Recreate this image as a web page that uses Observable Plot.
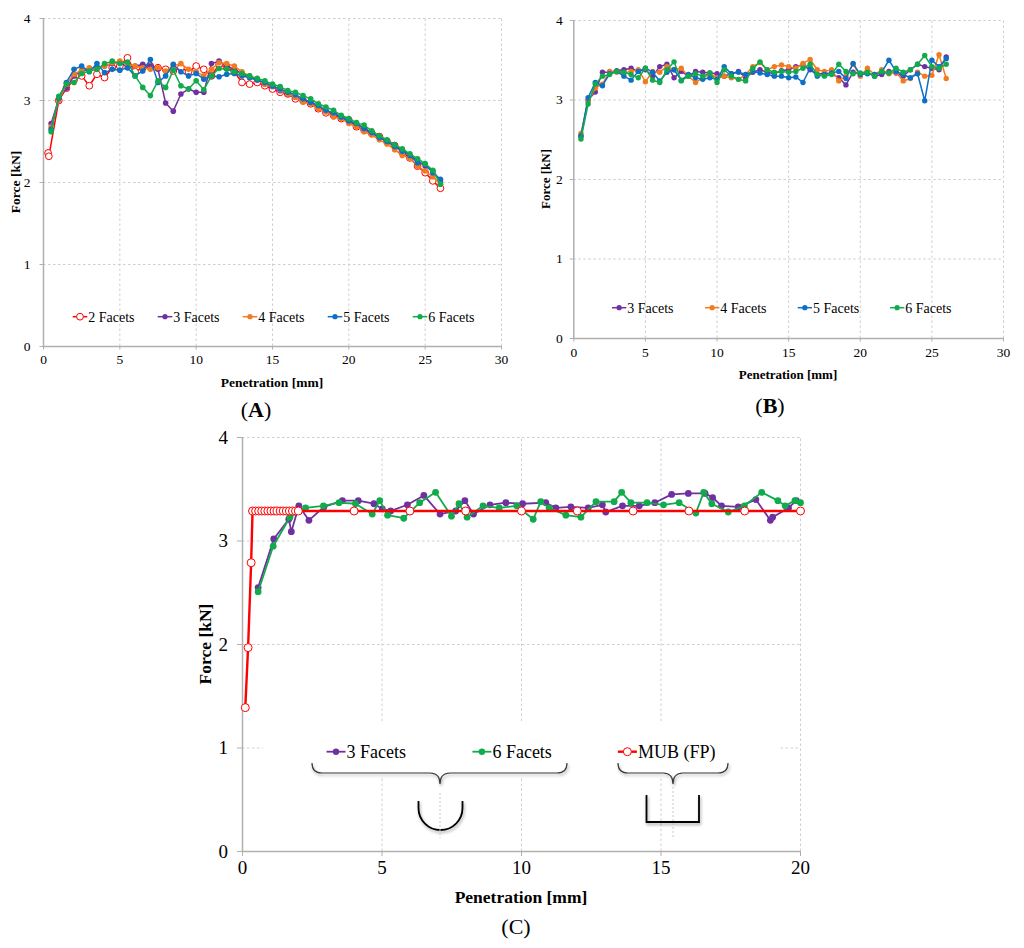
<!DOCTYPE html>
<html><head><meta charset="utf-8">
<script src="https://cdn.jsdelivr.net/npm/d3@7"></script>
<script src="https://cdn.jsdelivr.net/npm/@observablehq/plot@0.6"></script>
<style>
body{margin:0;background:#fff;}
#root{position:relative;width:1024px;height:948px;overflow:hidden;font-family:"Liberation Serif","Times New Roman",serif;color:#000;}
#root > svg, #root > div.p{position:absolute;}
</style></head><body><div id="root"></div>
<script>
// ---------- Panel A data (Penetration mm, Force kN) ----------
const xA = [0.5,1,1.5,2,2.5,3,3.5,4,4.5,5,5.5,6,6.5,7,7.5,8,8.5,9,9.5,10,10.5,11,11.5,12,12.5,13,13.5,14,14.5,15,15.5,16,16.5,17,17.5,18,18.5,19,19.5,20,20.5,21,21.5,22,22.5,23,23.5,24,24.5,25,25.5,26];
const xA2 = [0.3,0.35,1,1.5,2,2.5,3,3.5,4,4.5,5,5.5,6,6.5,7,7.5,8,8.5,9,9.5,10,10.5,11,11.5,12,12.5,13,13.5,14,14.5,15,15.5,16,16.5,17,17.5,18,18.5,19,19.5,20,20.5,21,21.5,22,22.5,23,23.5,24,24.5,25,25.5,26];
const fA2 = [2.36,2.32,3.0,3.15,3.25,3.3,3.18,3.32,3.28,3.4,3.42,3.52,3.35,3.4,3.42,3.4,3.38,3.36,3.4,3.35,3.42,3.38,3.3,3.44,3.4,3.35,3.22,3.2,3.22,3.18,3.14,3.1,3.08,3.02,3.0,2.96,2.9,2.85,2.82,2.78,2.76,2.68,2.64,2.6,2.56,2.5,2.45,2.37,2.3,2.2,2.12,2.02,1.93];
const fA3 = [2.72,3.02,3.15,3.3,3.36,3.38,3.4,3.42,3.45,3.47,3.4,3.42,3.44,3.42,3.38,2.97,2.87,3.08,3.14,3.1,3.1,3.45,3.48,3.42,3.38,3.33,3.28,3.25,3.2,3.17,3.12,3.08,3.04,3.0,2.97,2.92,2.87,2.83,2.8,2.74,2.71,2.66,2.6,2.55,2.5,2.46,2.4,2.33,2.27,2.2,2.14,2.02];
const fA4 = [2.68,3.0,3.2,3.32,3.37,3.4,3.38,3.42,3.46,3.48,3.44,3.42,3.4,3.38,3.4,3.36,3.42,3.45,3.38,3.35,3.3,3.38,3.46,3.45,3.42,3.35,3.3,3.25,3.2,3.18,3.13,3.08,3.04,2.98,2.96,2.9,2.86,2.8,2.78,2.72,2.68,2.62,2.58,2.52,2.47,2.4,2.33,2.3,2.2,2.14,2.07,1.98];
const fA5 = [2.65,3.03,3.22,3.38,3.42,3.35,3.45,3.34,3.38,3.37,3.4,3.3,3.36,3.5,3.22,3.3,3.44,3.35,3.3,3.33,3.26,3.3,3.29,3.32,3.33,3.3,3.28,3.25,3.22,3.18,3.14,3.1,3.07,3.02,2.98,2.94,2.88,2.85,2.8,2.75,2.72,2.66,2.61,2.55,2.5,2.44,2.38,2.33,2.24,2.22,2.12,2.04];
const fA6 = [2.62,3.05,3.2,3.22,3.33,3.36,3.38,3.45,3.48,3.45,3.47,3.3,3.16,3.06,3.24,3.16,3.37,3.18,3.14,3.24,3.13,3.3,3.39,3.38,3.35,3.33,3.3,3.27,3.24,3.2,3.17,3.12,3.1,3.06,3.02,2.96,2.92,2.88,2.82,2.78,2.73,2.7,2.63,2.57,2.52,2.46,2.41,2.35,2.29,2.23,2.15,1.98];

// ---------- Panel B data ----------
const xB = [0.5,1,1.5,2,2.5,3,3.5,4,4.5,5,5.5,6,6.5,7,7.5,8,8.5,9,9.5,10,10.5,11,11.5,12,12.5,13,13.5,14,14.5,15,15.5,16,16.5,17,17.5,18,18.5,19,19.5,20,20.5,21,21.5,22,22.5,23,23.5,24,24.5,25,25.5,26];
const fB3 = [2.54,3.0,3.1,3.35,3.35,3.37,3.38,3.4,3.36,3.38,3.3,3.42,3.45,3.28,3.36,3.3,3.36,3.35,3.34,3.33,3.3,3.33,3.36,3.28,3.35,3.38,3.35,3.33,3.37,3.38,3.42,3.44,3.38,3.32,3.34,3.33,3.28,3.19,3.35,3.33,3.34,3.3,3.32,3.36,3.34,3.3,3.38,3.45,3.42,3.4,3.38,3.54];
const fB4 = [2.58,2.98,3.15,3.2,3.36,3.35,3.34,3.36,3.38,3.23,3.36,3.35,3.42,3.38,3.4,3.3,3.22,3.28,3.33,3.28,3.3,3.28,3.26,3.32,3.42,3.47,3.38,3.42,3.44,3.42,3.4,3.46,3.51,3.38,3.36,3.38,3.24,3.3,3.45,3.3,3.4,3.32,3.38,3.33,3.35,3.24,3.27,3.35,3.3,3.31,3.57,3.27];
const fB5 = [2.55,3.03,3.22,3.18,3.33,3.36,3.3,3.25,3.36,3.4,3.35,3.24,3.35,3.38,3.25,3.32,3.28,3.26,3.28,3.26,3.42,3.33,3.35,3.32,3.36,3.34,3.32,3.3,3.3,3.28,3.29,3.22,3.4,3.3,3.32,3.34,3.36,3.27,3.46,3.32,3.33,3.32,3.35,3.5,3.36,3.32,3.28,3.33,2.99,3.5,3.42,3.52];
const fB6 = [2.51,2.95,3.2,3.3,3.32,3.36,3.35,3.32,3.28,3.4,3.25,3.22,3.38,3.48,3.24,3.3,3.33,3.3,3.34,3.22,3.38,3.3,3.26,3.24,3.4,3.48,3.38,3.35,3.36,3.35,3.36,3.4,3.45,3.32,3.3,3.32,3.45,3.36,3.33,3.34,3.35,3.3,3.36,3.34,3.4,3.35,3.38,3.45,3.56,3.42,3.4,3.45];

// ---------- Panel C data ----------
const xC3 = [0.56,1.12,1.66,1.75,2.02,2.38,2.92,3.58,4.15,4.71,5.01,5.31,5.91,6.5,7.08,7.64,7.97,8.28,8.87,9.44,10.04,10.87,11.23,11.77,12.39,12.9,13.02,13.62,14.22,14.78,15.38,15.98,16.58,16.85,17.17,17.77,18.4,18.92,19.0,19.57,19.85];
const fC3 = [2.55,3.02,3.21,3.09,3.34,3.2,3.33,3.39,3.39,3.36,3.31,3.29,3.35,3.44,3.26,3.29,3.39,3.26,3.35,3.37,3.36,3.37,3.32,3.33,3.32,3.35,3.28,3.34,3.34,3.37,3.45,3.46,3.46,3.42,3.34,3.33,3.4,3.2,3.23,3.32,3.39];
const xC6 = [0.56,1.1,1.7,2.26,2.9,3.46,4.05,4.65,4.92,5.2,5.78,6.35,6.92,7.49,7.76,8.05,8.62,9.2,9.83,10.42,10.69,10.99,11.59,12.13,12.67,13.32,13.59,13.92,14.5,15.09,15.65,16.25,16.53,16.82,17.41,17.99,18.61,19.19,19.45,19.8,20.0];
const fC6 = [2.51,2.95,3.23,3.32,3.34,3.37,3.36,3.26,3.39,3.25,3.22,3.37,3.47,3.24,3.36,3.23,3.34,3.32,3.34,3.21,3.38,3.32,3.25,3.23,3.38,3.38,3.47,3.37,3.37,3.35,3.37,3.27,3.47,3.36,3.28,3.34,3.47,3.39,3.34,3.39,3.37];
const xMUB = [0.1,0.2,0.31,0.36,0.47,0.58,0.69,0.8,0.91,1.02,1.13,1.24,1.35,1.46,1.57,1.68,1.79,1.9,2.0,4,6,8,10,12,14,16,18,20];
const fMUB = [1.39,1.97,2.79,3.29,3.29,3.29,3.29,3.29,3.29,3.29,3.29,3.29,3.29,3.29,3.29,3.29,3.29,3.29,3.29,3.29,3.29,3.29,3.29,3.29,3.29,3.29,3.29,3.29];

// ticks
const xTicksAB = [0,5,10,15,20,25,30];
const xTicksC = [0,5,10,15,20];
const yTicks = [0,1,2,3,4];

const PURPLE = "#7030A0", ORANGE = "#F47A1F", BLUE = "#0E6FC4", GREEN = "#12AB4C", RED = "#FF0000";

const seriesA = [
  {name:"2 Facets", x:xA2, y:fA2, color:RED, open:true},
  {name:"3 Facets", x:xA, y:fA3, color:PURPLE},
  {name:"4 Facets", x:xA, y:fA4, color:ORANGE},
  {name:"5 Facets", x:xA, y:fA5, color:BLUE},
  {name:"6 Facets", x:xA, y:fA6, color:GREEN}
];
const seriesB = [
  {name:"3 Facets", x:xB, y:fB3, color:PURPLE},
  {name:"4 Facets", x:xB, y:fB4, color:ORANGE},
  {name:"5 Facets", x:xB, y:fB5, color:BLUE},
  {name:"6 Facets", x:xB, y:fB6, color:GREEN}
];
const seriesC = [
  {name:"3 Facets", x:xC3, y:fC3, color:PURPLE},
  {name:"6 Facets", x:xC6, y:fC6, color:GREEN},
  {name:"MUB (FP)", x:xMUB, y:fMUB, color:RED, open:true, heavy:true}
];

const rows = s => s.y.map((v,i) => ({x:s.x[i], y:v})).filter(d => d.x != null);

const GRID = {stroke:"#cfcfcf", strokeOpacity:1, strokeDasharray:"2.5,2.5", strokeWidth:1};
const AXIS = "#b0b0b0";

function panel(o) {
  const marks = [];
  marks.push(Plot.gridX(o.xTicks.slice(1), {...GRID, y1: 0, y2: 4}));
  marks.push(Plot.gridY(o.gridY || yTicks.slice(1), {...GRID, x1: o.xDomain[0], x2: o.xDomain[1]}));
  if (o.extra) marks.push(...o.extra);
  marks.push(Plot.ruleX([0], {stroke:AXIS, strokeWidth:1.5}));
  marks.push(Plot.ruleY([0], {stroke:AXIS, strokeWidth:1.5}));
  marks.push(Plot.axisX(o.xTicks, {stroke:AXIS, tickSize:o.tick, tickPadding:o.xPad, fontSize:o.fs, label:null, tickFormat:d=>String(d)}));
  marks.push(Plot.axisY(yTicks, {stroke:AXIS, tickSize:o.tick, tickPadding:o.yPad, fontSize:o.fs, label:null, tickFormat:d=>String(d)}));
  for (const s of o.series) {
    const d = rows(s);
    marks.push(Plot.line(d, {x:"x", y:"y", stroke:s.color, strokeWidth: s.heavy ? 2.4 : o.lw}));
    if (s.open) marks.push(Plot.dot(d, {x:"x", y:"y", r:o.r + 0.6, fill:"#fff", stroke:s.color, strokeWidth:1}));
    else marks.push(Plot.dot(d, {x:"x", y:"y", r:o.r, fill:s.color}));
  }
  const svg = Plot.plot({
    width:o.w, height:o.h,
    marginLeft:o.mL, marginRight:o.mR, marginTop:o.mT, marginBottom:o.mB,
    x:{domain:o.xDomain}, y:{domain:[0,4]},
    style:{fontFamily:'"Liberation Serif","Times New Roman",serif', fontSize:o.fs+"px", background:"transparent", overflow:"visible", color:"#000"},
    marks
  });
  svg.style.left = o.left + "px";
  svg.style.top = o.top + "px";
  svg.style.position = "absolute";
  return svg;
}

const root = document.getElementById("root");

root.appendChild(panel({left:0, top:0, w:510, h:375, mL:43, mR:9, mT:18, mB:29,
  xDomain:[0,30], xTicks:xTicksAB, series:seriesA, fs:13.5, tick:3.5, xPad:4, yPad:9.5, lw:1.5, r:2.8}));
root.appendChild(panel({left:520, top:0, w:495, h:370, mL:53.3, mR:12, mT:20, mB:32,
  xDomain:[0,30], xTicks:xTicksAB, series:seriesB, fs:13.5, tick:3.5, xPad:5, yPad:7.5, lw:1.5, r:2.7}));
root.appendChild(panel({left:150, top:425, w:660, h:455, mL:92, mR:10, mT:12, mB:29,
  xDomain:[0,20], xTicks:xTicksC, series:seriesC, fs:19, tick:5, xPad:3.5, yPad:9.5, lw:1.8, r:3.4,
  gridY:[2,3,4],
  extra:[Plot.ruleY([1], {x1:0, x2:0.75, ...GRID}), Plot.ruleY([1], {x1:19.3, x2:20, ...GRID})]}));

// ---------- overlay: titles, legends, indenter sketches ----------
const ov = d3.select(root).append("svg")
  .attr("width",1024).attr("height",948)
  .style("position","absolute").style("left","0px").style("top","0px")
  .style("font-family",'"Liberation Serif","Times New Roman",serif');

// legend box of panel C hides gridlines
ov.append("rect").attr("x",263).attr("y",722).attr("width",517).attr("height",56).attr("fill","#fff");

function txt(x, y, s, size, opts={}) {
  const t = ov.append("text").attr("x",x).attr("y",y).attr("font-size",size)
    .attr("text-anchor", opts.anchor || "middle").attr("dominant-baseline","central")
    .attr("font-weight", opts.bold ? "bold" : null).attr("fill","#000");
  if (opts.rotate) t.attr("transform", `rotate(-90,${x},${y})`);
  return t.text(s);
}
// axis titles
txt(272, 382, "Penetration [mm]", 13.5, {bold:true});
txt(15, 182, "Force [kN]", 13.5, {bold:true, rotate:true});
txt(788, 374, "Penetration [mm]", 13, {bold:true});
txt(545, 179, "Force [kN]", 13, {bold:true, rotate:true});
txt(521, 897, "Penetration [mm]", 17.5, {bold:true});
txt(205, 644, "Force [kN]", 17.5, {bold:true, rotate:true});
// panel labels
function plabel(x, y, letter, bold) {
  const t = ov.append("text").attr("x",x).attr("y",y).attr("font-size",22)
    .attr("text-anchor","middle").attr("dominant-baseline","central");
  t.append("tspan").text("(");
  t.append("tspan").attr("font-weight", bold ? "bold" : null).text(letter);
  t.append("tspan").text(")");
}
plabel(256, 409, "A", true);
plabel(770, 405, "B", true);
plabel(516, 926, "C", false);

// legends
function legend(series, starts, y, len, size, r, lw) {
  series.forEach((s, i) => {
    const x0 = starts[i];
    ov.append("line").attr("x1",x0).attr("x2",x0+len).attr("y1",y).attr("y2",y)
      .attr("stroke",s.color).attr("stroke-width", s.heavy ? 2.4 : lw);
    ov.append("circle").attr("cx",x0+len/2).attr("cy",y).attr("r", s.open ? r+0.8 : r)
      .attr("fill", s.open ? "#fff" : s.color).attr("stroke", s.open ? s.color : "none").attr("stroke-width",1);
    txt(x0+len+1, y+0.5, s.name, size, {anchor:"start"});
  });
}
legend(seriesA, [72.7,157.7,242.7,327.7,412.7], 316.7, 14.6, 14, 2.6, 1.5);
legend(seriesB, [612,705,797.7,890], 307.7, 14.3, 14, 2.6, 1.5);
legend(seriesC, [326.5,472.4,617.9], 751.7, 19, 18, 3.2, 1.8);

// braces and indenter profiles
const sk = ov.append("g").style("filter","drop-shadow(1px 2px 1.5px rgba(0,0,0,0.35))");
function brace(x1, x2, xm, y0, y1, y2) {
  const p = `M${x1},${y0} Q${x1},${y1} ${x1+10},${y1} L${xm-10},${y1} Q${xm},${y1} ${xm},${y2} Q${xm},${y1} ${xm+10},${y1} L${x2-10},${y1} Q${x2},${y1} ${x2},${y0}`;
  sk.append("path").attr("d",p).attr("fill","none").attr("stroke","#3a3a3a").attr("stroke-width",1.2);
}
brace(312, 567, 440, 763, 773, 784);
brace(618, 728, 673, 763, 773, 784);
ov.append("line").attr("x1",440).attr("x2",440).attr("y1",793).attr("y2",838).attr("stroke","#c8c8c8").attr("stroke-dasharray","2,2");
ov.append("line").attr("x1",673).attr("x2",673).attr("y1",787).attr("y2",838).attr("stroke","#c8c8c8").attr("stroke-dasharray","2,2");
sk.append("path").attr("d","M418.5,801 L418.5,808 A22,22 0 0 0 462.5,808 L462.5,801").attr("fill","none").attr("stroke","#000").attr("stroke-width",1.8);
sk.append("path").attr("d","M646.5,795 L646.5,822 L699,822 L699,795").attr("fill","none").attr("stroke","#000").attr("stroke-width",1.8);
</script></body></html>
